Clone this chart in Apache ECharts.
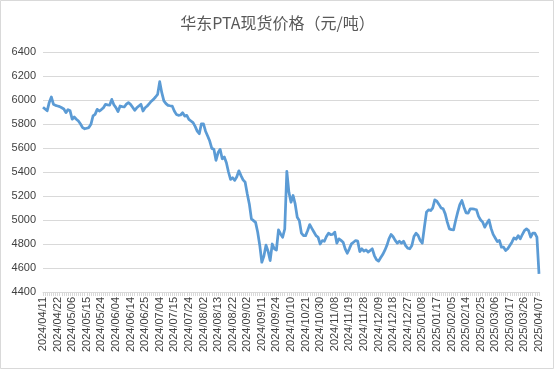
<!DOCTYPE html>
<html>
<head>
<meta charset="utf-8">
<script src="https://cdn.jsdelivr.net/npm/echarts@6/dist/echarts.min.js"></script>
<style>html,body{margin:0;padding:0;background:#fff;}#c{width:555px;height:370px;}</style>
</head>
<body>
<div id="c"></div>
<script>
const chartTitle = '华东PTA现货价格（元/吨）';
const dates = [
'2024/04/11','2024/04/12','2024/04/15','2024/04/16','2024/04/17','2024/04/18','2024/04/19','2024/04/22','2024/04/23','2024/04/24','2024/04/25','2024/04/26','2024/04/29','2024/04/30',
'2024/05/06','2024/05/07','2024/05/08','2024/05/09','2024/05/10','2024/05/13','2024/05/14','2024/05/15','2024/05/16','2024/05/17','2024/05/20','2024/05/21','2024/05/22','2024/05/23','2024/05/24','2024/05/27','2024/05/28','2024/05/29','2024/05/30','2024/05/31',
'2024/06/03','2024/06/04','2024/06/05','2024/06/06','2024/06/07','2024/06/11','2024/06/12','2024/06/13','2024/06/14','2024/06/17','2024/06/18','2024/06/19','2024/06/20','2024/06/21','2024/06/24','2024/06/25','2024/06/26','2024/06/27','2024/06/28',
'2024/07/01','2024/07/02','2024/07/03','2024/07/04','2024/07/05','2024/07/08','2024/07/09','2024/07/10','2024/07/11','2024/07/12','2024/07/15','2024/07/16','2024/07/17','2024/07/18','2024/07/19','2024/07/22','2024/07/23','2024/07/24','2024/07/25','2024/07/26','2024/07/29','2024/07/30','2024/07/31',
'2024/08/01','2024/08/02','2024/08/05','2024/08/06','2024/08/07','2024/08/08','2024/08/09','2024/08/12','2024/08/13','2024/08/14','2024/08/15','2024/08/16','2024/08/19','2024/08/20','2024/08/21','2024/08/22','2024/08/23','2024/08/26','2024/08/27','2024/08/28','2024/08/29','2024/08/30',
'2024/09/02','2024/09/03','2024/09/04','2024/09/05','2024/09/06','2024/09/09','2024/09/10','2024/09/11','2024/09/12','2024/09/13','2024/09/18','2024/09/19','2024/09/20','2024/09/23','2024/09/24','2024/09/25','2024/09/26','2024/09/27','2024/09/30',
'2024/10/08','2024/10/09','2024/10/10','2024/10/11','2024/10/14','2024/10/15','2024/10/16','2024/10/17','2024/10/18','2024/10/21','2024/10/22','2024/10/23','2024/10/24','2024/10/25','2024/10/28','2024/10/29','2024/10/30','2024/10/31',
'2024/11/01','2024/11/04','2024/11/05','2024/11/06','2024/11/07','2024/11/08','2024/11/11','2024/11/12','2024/11/13','2024/11/14','2024/11/15','2024/11/18','2024/11/19','2024/11/20','2024/11/21','2024/11/22','2024/11/25','2024/11/26','2024/11/27','2024/11/28','2024/11/29',
'2024/12/02','2024/12/03','2024/12/04','2024/12/05','2024/12/06','2024/12/09','2024/12/10','2024/12/11','2024/12/12','2024/12/13','2024/12/16','2024/12/17','2024/12/18','2024/12/19','2024/12/20','2024/12/23','2024/12/24','2024/12/25','2024/12/26','2024/12/27','2024/12/30','2024/12/31',
'2025/01/02','2025/01/03','2025/01/06','2025/01/07','2025/01/08','2025/01/09','2025/01/10','2025/01/13','2025/01/14','2025/01/15','2025/01/16','2025/01/17','2025/01/20','2025/01/21','2025/01/22','2025/01/23','2025/01/24','2025/01/27',
'2025/02/05','2025/02/06','2025/02/07','2025/02/10','2025/02/11','2025/02/12','2025/02/13','2025/02/14','2025/02/17','2025/02/18','2025/02/19','2025/02/20','2025/02/21','2025/02/24','2025/02/25','2025/02/26','2025/02/27','2025/02/28',
'2025/03/03','2025/03/04','2025/03/05','2025/03/06','2025/03/07','2025/03/10','2025/03/11','2025/03/12','2025/03/13','2025/03/14','2025/03/17','2025/03/18','2025/03/19','2025/03/20','2025/03/21','2025/03/24','2025/03/25','2025/03/26','2025/03/27','2025/03/28','2025/03/31',
'2025/04/01','2025/04/02','2025/04/03','2025/04/07'
];
const prices = [
5940,5925,5910,5980,6025,5965,5955,5950,5945,5935,5925,5895,5920,5910,5840,5858,5840,5825,5800,5770,
5760,5765,5770,5797,5867,5880,5922,5908,5920,5936,5964,5960,5958,6005,5960,5936,5903,5950,5945,5942,
5965,5978,5964,5940,5914,5935,5950,5964,5908,5935,5950,5970,5990,6005,6025,6047,6153,6061,5992,5970,
5955,5952,5950,5908,5880,5872,5875,5894,5866,5872,5839,5825,5811,5780,5741,5719,5802,5802,5740,5700,
5658,5597,5590,5497,5560,5589,5510,5525,5477,5400,5338,5352,5330,5360,5410,5370,5335,5315,5218,5134,
5009,4995,4980,4900,4790,4648,4700,4790,4740,4662,4800,4760,4750,4917,4884,4856,4925,5406,5231,5148,
5204,5134,5023,4995,4890,4870,4870,4912,4962,4930,4900,4870,4856,4800,4828,4823,4862,4890,4879,4880,
4899,4807,4843,4830,4815,4760,4723,4760,4801,4815,4829,4824,4737,4760,4740,4751,4732,4746,4760,4704,
4670,4657,4685,4712,4746,4787,4843,4879,4860,4830,4807,4824,4807,4824,4787,4765,4760,4787,4862,4890,
4871,4829,4807,4940,5065,5085,5079,5100,5168,5157,5130,5101,5093,5051,4982,4926,4920,4918,4996,5065,
5129,5162,5107,5060,5057,5093,5093,5090,5085,5030,5000,4982,4940,4974,5001,4930,4880,4850,4820,4829,
4773,4773,4746,4760,4787,4815,4851,4840,4870,4843,4879,4912,4926,4912,4857,4890,4890,4857,4551
];
const yMin = 4400, yMax = 6400, yStep = 200;

const chart = echarts.init(document.getElementById('c'), null, {renderer: 'canvas'});
chart.setOption({
  animation: false,
  backgroundColor: '#ffffff',
  title: {
    text: chartTitle,
    left: 'center',
    top: 10,
    textStyle: {fontFamily: 'Noto Sans CJK SC', fontSize: 16, fontWeight: 'normal', color: '#595959'}
  },
  graphic: [{
    type: 'rect', silent: true,
    shape: {x: 0.5, y: 0.5, width: 553, height: 368},
    style: {fill: 'none', stroke: '#d9d9d9', lineWidth: 1}
  }],
  grid: {left: 43, right: 16, top: 52, bottom: 78, containLabel: false},
  xAxis: {
    type: 'category',
    data: dates,
    boundaryGap: false,
    axisLine: {show: true, lineStyle: {color: '#d9d9d9', width: 1}},
    axisTick: {show: true, interval: 0, length: 4, lineStyle: {color: '#d9d9d9'}},
    axisLabel: {interval: 6, rotate: 90, margin: 5, fontSize: 11, color: '#404040', fontFamily: 'Liberation Sans'},
    splitLine: {show: false}
  },
  yAxis: {
    type: 'value',
    min: yMin, max: yMax, interval: yStep,
    axisLine: {show: false},
    axisTick: {show: false},
    axisLabel: {fontSize: 11, color: '#404040', margin: 7, fontFamily: 'Liberation Sans', formatter: function (v) { return String(v); }},
    splitLine: {lineStyle: {color: '#d9d9d9', width: 1}}
  },
  series: [{
    type: 'line',
    data: prices,
    showSymbol: false,
    symbol: 'none',
    smooth: false,
    lineStyle: {color: '#5b9bd5', width: 2.75, join: 'round'},
    itemStyle: {color: '#5b9bd5'}
  }]
});
</script>
</body>
</html>
